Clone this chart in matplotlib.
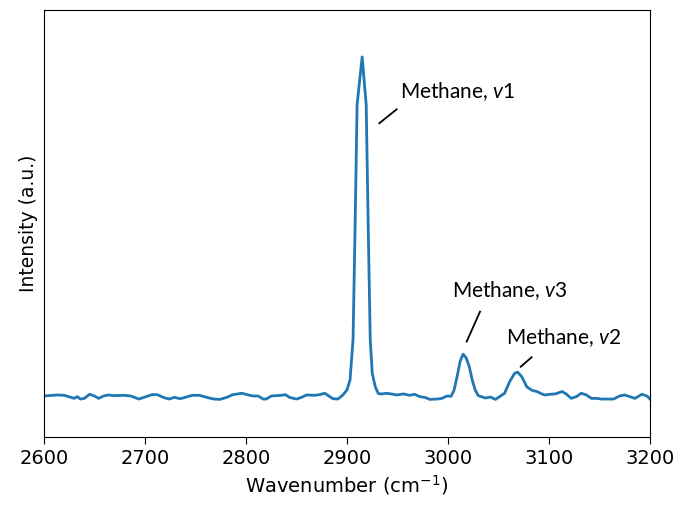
import matplotlib
matplotlib.use("Agg")
import matplotlib.pyplot as plt

# Raman spectrum (intensity normalised, arbitrary units)
wavenumber = [
    2600, 2613, 2620, 2630, 2633, 2636, 2640, 2645, 2650, 2654, 2659, 2664,
    2669, 2679, 2686, 2694, 2699, 2707, 2712, 2719, 2724, 2729, 2735, 2742,
    2747, 2754, 2761, 2768, 2774, 2781, 2787, 2796, 2801, 2807, 2812, 2817,
    2820, 2825, 2830, 2835, 2839, 2843, 2850, 2855, 2860, 2868, 2873, 2878,
    2883, 2886, 2891, 2896, 2900, 2903, 2906, 2908, 2910, 2915,
    2919, 2921, 2923, 2925, 2928, 2931, 2935, 2939, 2944, 2949, 2956, 2962,
    2967, 2972, 2977, 2982, 2989, 2994, 2999, 3003, 3006, 3009, 3012, 3015,
    3018, 3021, 3024, 3027, 3030, 3037, 3042, 3047, 3051, 3056, 3061, 3066,
    3069, 3073, 3078, 3083, 3088, 3093, 3096, 3101, 3106, 3113, 3117, 3122,
    3127, 3132, 3137, 3142, 3147, 3152, 3164, 3170, 3175, 3180, 3185, 3192,
    3197, 3200,
]
intensity = [
    0.003, 0.006, 0.005, -0.004, 0.001, -0.006, -0.004, 0.008, 0.003, -0.004, 0.003, 0.006,
    0.004, 0.005, 0.003, -0.006, -0.001, 0.007, 0.007, -0.002, -0.006, -0.001, -0.005, 0.001,
    0.005, 0.005, -0.001, -0.006, -0.007, -0.001, 0.007, 0.011, 0.007, 0.003, 0.003, -0.006,
    -0.006, 0.003, 0.004, 0.005, 0.007, -0.001, -0.006, -0.001, 0.006, 0.005, 0.007, 0.011,
    0.001, -0.005, -0.006, 0.006, 0.021, 0.05, 0.17, 0.5, 0.86, 1.0,
    0.86, 0.5, 0.17, 0.07, 0.03, 0.01, 0.009, 0.011, 0.009, 0.006, 0.009, 0.005,
    0.008, 0.001, -0.001, -0.007, -0.006, -0.004, 0.003, 0.002, 0.02, 0.06, 0.105, 0.126,
    0.115, 0.09, 0.05, 0.02, 0.004, -0.003, 0.0, -0.007, 0.001, 0.011, 0.045, 0.07,
    0.073, 0.06, 0.03, 0.02, 0.016, 0.009, 0.006, 0.008, 0.009, 0.016, 0.009, -0.004,
    0.001, 0.011, 0.006, -0.004, -0.004, -0.006, -0.006, 0.003, 0.006, 0.001, -0.004, 0.008,
    0.003, -0.006,
]

# peak labels: text, text anchor, leader line start (near peak) and end
labels = ["Methane, $\\mathit{v}$1", "Methane, $\\mathit{v}$3", "Methane, $\\mathit{v}$2"]
label_pos = [(2952.5, 0.879), (3003.6, 0.295), (3057.4, 0.156)]
line_start = [(2932, 0.805), (3018.5, 0.163), (3072, 0.089)]
line_end = [(2949.2, 0.846), (3031.7, 0.251), (3082.8, 0.117)]

# only used by the label texts (math_fontfamily="custom")
plt.rcParams["mathtext.it"] = "Lato:italic"
plt.rcParams["mathtext.rm"] = "Lato"

fig = plt.figure(figsize=(6.91, 5.09), dpi=100)
ax = fig.add_subplot(111)
fig.subplots_adjust(left=44 / 691, right=650 / 691, bottom=1 - 437 / 509, top=1 - 10 / 509)

ax.plot(wavenumber, intensity, color="#1f77b4", linewidth=2)

for lab, tp, s, e in zip(labels, label_pos, line_start, line_end):
    ax.plot([s[0], e[0]], [s[1], e[1]], color="black", linewidth=1.3)
    ax.text(tp[0], tp[1], lab, fontsize=15, family="Lato", math_fontfamily="custom",
            va="baseline", ha="left")

ax.set_xlim(2600, 3200)
ax.set_ylim(-0.1176, 1.138)
ax.set_yticks([])
ax.tick_params(axis="x", labelsize=14, length=5)
ax.set_xlabel("Wavenumber (cm$^{-1}$)", fontsize=14)
ax.set_ylabel("Intensity (a.u.)", fontsize=13.5)

plt.savefig("out.png", dpi=100)
